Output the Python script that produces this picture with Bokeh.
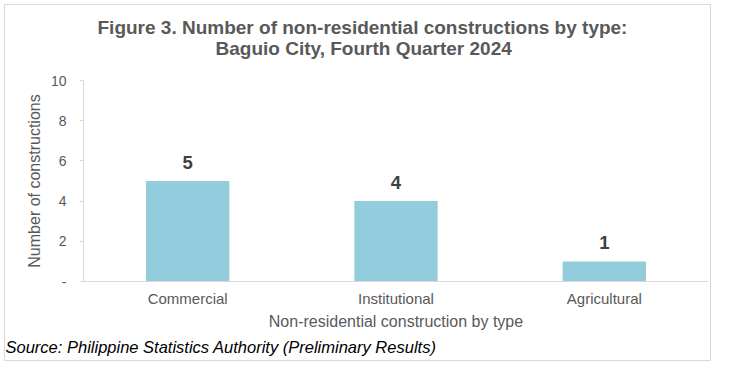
from bokeh.plotting import figure
from bokeh.models import (ColumnDataSource, FactorRange, Range1d, FixedTicker,
                          LabelSet, Title)
from bokeh.core.properties import value
from bokeh.embed import file_html
from bokeh.resources import INLINE

categories = ["Commercial", "Institutional", "Agricultural"]
counts = [5, 4, 1]
y_ticks = [0, 2, 4, 6, 8, 10]
y_tick_labels = {0: "-", 2: "2", 4: "4", 6: "6", 8: "8", 10: "10"}
title_lines = ["Figure 3. Number of non-residential constructions by type:",
               "Baguio City, Fourth Quarter 2024"]
source_note = "Source: Philippine Statistics Authority (Preliminary Results)"

FONT = "Liberation Sans"
GREY = "#595959"

W, H = 707, 357
FL, FR, FT, FB = 78, 703, 75, 276  # frame edges in figure pixels

src = ColumnDataSource(dict(cat=categories, val=counts,
                            lab=[str(v) for v in counts]))

p = figure(width=W, height=H, x_range=FactorRange(*categories, range_padding=0),
           y_range=Range1d(0, 10), output_backend="svg", toolbar_location=None,
           min_border_left=FL, min_border_right=W - FR, min_border_top=FT,
           min_border_bottom=H - FB)
p.styles = {"border": "1px solid #d9d9d9", "margin-left": "4px",
            "margin-top": "4px"}
p.outline_line_color = None
p.xgrid.grid_line_color = None
p.ygrid.grid_line_color = None
p.background_fill_color = "white"
p.border_fill_color = "white"

p.vbar(x="cat", top="val", width=0.4, source=src, fill_color="#93CDDD",
       line_color=None)

labels = LabelSet(x="cat", y="val", text="lab", source=src, y_offset=12,
                  text_align="center", text_baseline="alphabetic",
                  text_font=value(FONT), text_font_style="bold",
                  text_font_size="18.5px", text_color="#404040")
p.add_layout(labels)

ya = p.yaxis[0]
ya.ticker = FixedTicker(ticks=y_ticks)
ya.major_label_overrides = y_tick_labels
ya.axis_line_color = "#d9d9d9"
ya.major_tick_line_color = "#d9d9d9"
ya.major_tick_in = 0
ya.major_tick_out = 4
ya.minor_tick_line_color = None
ya.major_label_text_font = FONT
ya.major_label_text_font_size = "14px"
ya.major_label_text_color = GREY
ya.major_label_standoff = 13
ya.axis_label = "Number of constructions"
ya.axis_label_text_font = FONT
ya.axis_label_text_font_size = "16px"
ya.axis_label_text_font_style = "normal"
ya.axis_label_text_color = GREY
ya.axis_label_standoff = 5

xa = p.xaxis[0]
xa.axis_line_color = "#d9d9d9"
xa.major_tick_line_color = None
xa.minor_tick_line_color = None
xa.major_label_text_font = FONT
xa.major_label_text_font_size = "15px"
xa.major_label_text_color = GREY
xa.major_label_standoff = 2
xa.axis_label = "Non-residential construction by type"
xa.axis_label_text_font = FONT
xa.axis_label_text_font_size = "16px"
xa.axis_label_text_font_style = "normal"
xa.axis_label_text_color = GREY
xa.axis_label_standoff = 3

# spacer between the frame and the two title lines
p.add_layout(Title(text=" ", text_font_size="1px", standoff=19), "above")
p.add_layout(Title(text=title_lines[1], align="left", offset=132,
                   text_font=FONT, text_font_style="bold",
                   text_font_size="19px", text_color=GREY, standoff=0),
             "above")
p.add_layout(Title(text=title_lines[0], align="left", offset=14,
                   text_font=FONT, text_font_style="bold",
                   text_font_size="19px", text_color=GREY, standoff=-5),
             "above")

p.add_layout(Title(text=source_note, align="left", offset=-FL,
                   text_font=FONT, text_font_style="italic",
                   text_font_size="16.5px", text_color="#000000", standoff=7),
             "below")

open("out.html", "w").write(file_html(p, INLINE))
